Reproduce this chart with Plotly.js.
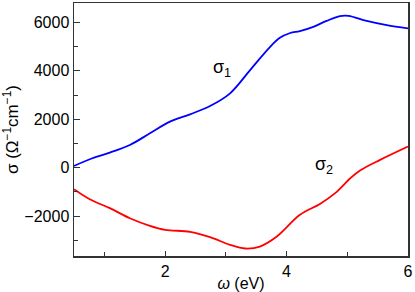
<!DOCTYPE html>
<html>
<head>
<meta charset="utf-8">
<script src="https://cdn.plot.ly/plotly-3.0.1.min.js"></script>
<style>html,body{margin:0;padding:0;background:#fff;}#chart{width:415px;height:292px;}</style>
</head>
<body>
<div id="chart"></div>
<script>
const omega1 = [0.5, 0.76, 1.09, 1.42, 1.75, 2.08, 2.41, 2.74, 3.07, 3.40, 3.73, 3.89, 4.06, 4.22, 4.44, 4.66, 4.88, 5.02, 5.32, 5.65, 6.0];
const sigma1 = [70, 346, 620, 935, 1418, 1900, 2200, 2545, 3070, 4030, 4990, 5360, 5560, 5640, 5815, 6060, 6260, 6270, 6060, 5885, 5750];
const omega2 = [0.5, 0.76, 1.09, 1.42, 1.75, 2.0, 2.41, 2.74, 3.07, 3.32, 3.56, 3.84, 4.22, 4.55, 4.80, 5.05, 5.21, 5.54, 6.0];
const sigma2 = [-890, -1305, -1675, -2090, -2405, -2570, -2650, -2870, -3190, -3340, -3260, -2845, -1950, -1500, -1055, -440, -120, 320, 870];
const labels = [
  {x: 2.94, y: 4100, text: 'σ<sub>1</sub>'},
  {x: 4.61, y: 80, text: 'σ<sub>2</sub>'}
];

const traces = [
  {x: omega1, y: sigma1, mode: 'lines', line: {color: '#0000ff', width: 1.8, shape: 'spline'}, hoverinfo: 'none'},
  {x: omega2, y: sigma2, mode: 'lines', line: {color: '#ff0000', width: 1.8, shape: 'spline'}, hoverinfo: 'none'}
];

const layout = {
  width: 415, height: 292,
  margin: {l: 74, r: 7, t: 3, b: 36},
  paper_bgcolor: '#fff', plot_bgcolor: '#fff',
  showlegend: false,
  font: {family: 'Liberation Sans, Arial, sans-serif', color: '#000', size: 15},
  xaxis: {
    range: [0.5, 6], dtick: 2, tick0: 0,
    ticks: 'inside', ticklen: 5, tickwidth: 1, tickcolor: '#333',
    minor: {dtick: 1, tick0: 0, ticks: 'inside', ticklen: 4, tickcolor: '#333'},
    showline: true, linecolor: '#333', linewidth: 1.5, mirror: true,
    showgrid: false, zeroline: false,
    tickfont: {size: 16},
    title: {text: '<i>ω</i> (eV)', font: {size: 16}, standoff: 2},
    automargin: false
  },
  yaxis: {
    range: [-3650, 6800], dtick: 2000, tick0: 0,
    ticks: 'inside', ticklen: 6, tickwidth: 1, tickcolor: '#333',
    minor: {dtick: 1000, tick0: 0, ticks: 'inside', ticklen: 4, tickcolor: '#333'},
    showline: true, linecolor: '#333', linewidth: 1.5, mirror: true,
    showgrid: false, zeroline: false,
    tickfont: {size: 16},
    title: {text: 'σ (Ω<sup>−1</sup>cm<sup>−1</sup>)', font: {size: 17}, standoff: 5},
    automargin: false
  },
  annotations: labels.map(l => ({x: l.x, y: l.y, text: l.text, showarrow: false, font: {size: 18}, xanchor: 'center', yanchor: 'middle'}))
};

Plotly.newPlot('chart', traces, layout, {staticPlot: true, displayModeBar: false});
</script>
</body>
</html>
